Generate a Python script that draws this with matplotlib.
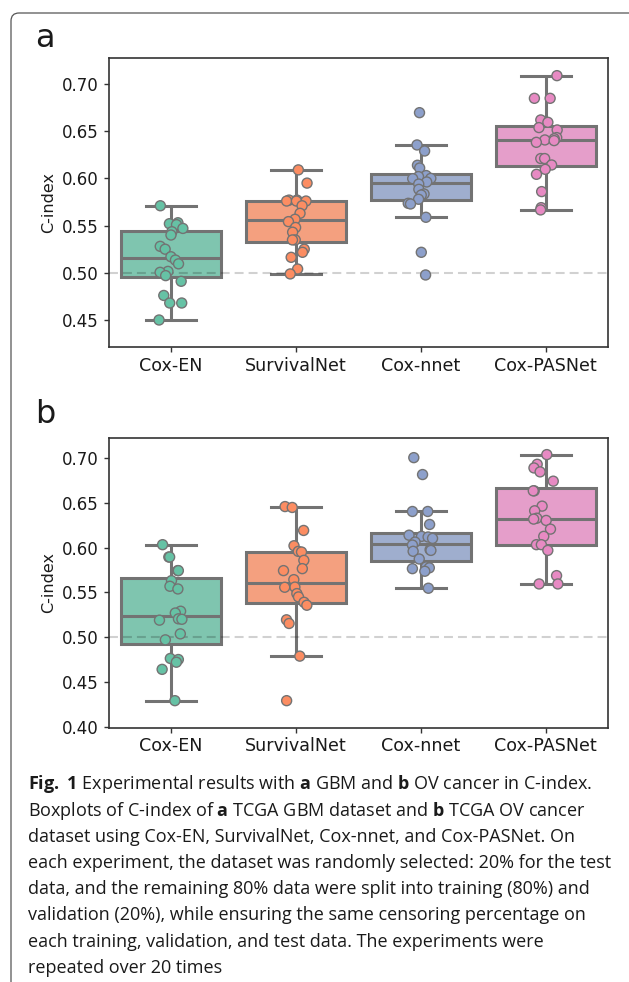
import numpy as np
import pandas as pd
import matplotlib
matplotlib.use("Agg")
import matplotlib.pyplot as plt
import matplotlib.colors as mcolors
import seaborn as sns
from matplotlib.patches import FancyBboxPatch
from matplotlib.transforms import IdentityTransform
from matplotlib import font_manager as fm

# ---------------- data ----------------
methods = ["Cox-EN", "SurvivalNet", "Cox-nnet", "Cox-PASNet"]

gbm_cox_en = [0.571, 0.553, 0.552, 0.551, 0.547, 0.5435, 0.540, 0.528, 0.525, 0.517,
              0.5135, 0.5095, 0.5015, 0.5005, 0.497, 0.491, 0.476, 0.468, 0.468, 0.450]
gbm_survivalnet = [0.609, 0.595, 0.577, 0.577, 0.576, 0.576, 0.576, 0.571, 0.563, 0.5567,
                   0.5542, 0.548, 0.543, 0.5348, 0.5348, 0.525, 0.5217, 0.5164, 0.504, 0.4988]
gbm_cox_nnet = [0.6696, 0.6354, 0.629, 0.6139, 0.611, 0.603, 0.6019, 0.600, 0.5997, 0.5962,
                0.594, 0.5884, 0.5835, 0.5824, 0.5779, 0.5736, 0.5729, 0.5588, 0.5217, 0.4977]
gbm_cox_pasnet = [0.7088, 0.6848, 0.6848, 0.6619, 0.6594, 0.6538, 0.6513, 0.6432, 0.642, 0.6407,
                  0.640, 0.6382, 0.621, 0.621, 0.6142, 0.6096, 0.6043, 0.586, 0.569, 0.5666]

ov_cox_en = [0.6034, 0.5896, 0.5896, 0.5744, 0.5744, 0.5632, 0.5569, 0.5539, 0.529, 0.527,
             0.5205, 0.520, 0.519, 0.5037, 0.497, 0.4762, 0.475, 0.472, 0.464, 0.429]
ov_survivalnet = [0.646, 0.645, 0.6193, 0.6022, 0.5959, 0.5952, 0.5859, 0.5766, 0.5744, 0.5643,
                  0.556, 0.5558, 0.5487, 0.545, 0.539, 0.5357, 0.5194, 0.5153, 0.4788, 0.429]
ov_cox_nnet = [0.7007, 0.6818, 0.6405, 0.6405, 0.626, 0.614, 0.6127, 0.612, 0.6104, 0.6063,
               0.603, 0.5978, 0.597, 0.596, 0.5874, 0.5785, 0.5775, 0.5766, 0.5737, 0.5547]
ov_cox_pasnet = [0.7041, 0.6933, 0.6892, 0.6848, 0.6744, 0.6636, 0.6636, 0.6465, 0.6413, 0.633,
                 0.632, 0.6305, 0.6208, 0.6127, 0.6034, 0.6034, 0.597, 0.5688, 0.5595, 0.5595]

yticks_a = [0.45, 0.50, 0.55, 0.60, 0.65, 0.70]
yticks_b = [0.40, 0.45, 0.50, 0.55, 0.60, 0.65, 0.70]
ylabel = "C-index"
panel_labels = ["a", "b"]
reference_value = 0.50

caption_lines = [
    r"$\mathbf{Fig.}$ $\mathbf{1}$ Experimental results with $\mathbf{a}$ GBM and $\mathbf{b}$ OV cancer in C-index.",
    r"Boxplots of C-index of $\mathbf{a}$ TCGA GBM dataset and $\mathbf{b}$ TCGA OV cancer",
    "dataset using Cox-EN, SurvivalNet, Cox-nnet, and Cox-PASNet. On",
    "each experiment, the dataset was randomly selected: 20% for the test",
    "data, and the remaining 80% data were split into training (80%) and",
    "validation (20%), while ensuring the same censoring percentage on",
    "each training, validation, and test data. The experiments were",
    "repeated over 20 times",
]

# ---------------- style ----------------
plt.rcParams["font.family"] = ["DejaVu Sans"]

def has_font(name):
    try:
        fm.findfont(fm.FontProperties(family=name), fallback_to_default=False)
        return True
    except Exception:
        return False

cap_family = "Liberation Sans Narrow" if has_font("Liberation Sans Narrow") else "Open Sans"
plt.rcParams["mathtext.fontset"] = "custom"
plt.rcParams["mathtext.rm"] = cap_family
plt.rcParams["mathtext.bf"] = cap_family + ":bold"

edge_gray = "#737373"
spine_col = "#333333"

def lighten(c, f):
    r = np.array(mcolors.to_rgb(c))
    return tuple(r * (1 - f) + f)

set2 = sns.color_palette("Set2", 4)
box_palette = [lighten(sns.desaturate(c, 0.87), 0.13) for c in set2]

fig = plt.figure(figsize=(6.29, 9.82), dpi=100)
W, H = 629, 982

ax_a = fig.add_axes([108.5 / W, 1 - 347 / H, (608 - 108.5) / W, (347 - 58) / H])
ax_b = fig.add_axes([108.5 / W, 1 - 727.5 / H, (608 - 108.5) / W, (727.5 - 437.7) / H])

np.random.seed(7)

def draw_panel(ax, groups, yticks, ylim):
    df = pd.DataFrame({
        "method": np.repeat(methods, [len(g) for g in groups]),
        "cindex": np.concatenate([np.asarray(g, float) for g in groups]),
    })
    sns.boxplot(data=df, x="method", y="cindex", hue="method", order=methods,
                hue_order=methods, palette=box_palette, saturation=1, width=0.8,
                linewidth=2.2, linecolor=edge_gray, showfliers=False,
                legend=False, ax=ax)
    ax.axhline(reference_value, color="k", alpha=0.18, lw=1.5,
               ls=(0, (4.3, 2.4)), zorder=2.5)
    sns.stripplot(data=df, x="method", y="cindex", hue="method", order=methods,
                  hue_order=methods, palette=set2, size=7.2, linewidth=1,
                  edgecolor=edge_gray, jitter=0.1, legend=False, ax=ax, zorder=3)
    ax.set_xlim(-0.5, 3.5)
    ax.set_ylim(*ylim)
    ax.set_yticks(yticks)
    ax.set_yticklabels([f"{t:.2f}" for t in yticks])
    ax.set_xlabel("")
    ax.set_ylabel(ylabel, fontsize=11.5, color="#1a1a1a")
    ax.tick_params(axis="both", length=3.5, width=1,
                   color=spine_col, labelcolor="#1a1a1a")
    ax.tick_params(axis="y", labelsize=12)
    ax.tick_params(axis="x", labelsize=12.6)
    for s in ax.spines.values():
        s.set_visible(True)
        s.set_color(spine_col)
        s.set_linewidth(1.2)

draw_panel(ax_a, [gbm_cox_en, gbm_survivalnet, gbm_cox_nnet, gbm_cox_pasnet],
           yticks_a, (0.4214, 0.7275))
draw_panel(ax_b, [ov_cox_en, ov_survivalnet, ov_cox_nnet, ov_cox_pasnet],
           yticks_b, (0.399, 0.723))

# panel letters
fig.text(35 / W, 1 - 47 / H, panel_labels[0], fontsize=23, va="baseline",
         ha="left", color="#1a1a1a")
fig.text(35 / W, 1 - 423 / H, panel_labels[1], fontsize=23, va="baseline",
         ha="left", color="#1a1a1a")

# frame (rounded, open to the right/bottom)
frame = FancyBboxPatch((11, -30), 700, (H - 13) + 30,
                       boxstyle="round,pad=0,rounding_size=8",
                       transform=IdentityTransform(), fill=False,
                       edgecolor="#555555", linewidth=0.9)
fig.patches.append(frame)

# caption
renderer = fig.canvas.get_renderer()
probe = fig.text(0, 0, caption_lines[3], fontsize=15, family=cap_family)
w15 = probe.get_window_extent(renderer).width
probe.remove()
cap_size = 15 * (612 - 28) / w15

baselines = [789, 815.7, 842, 868, 894, 920, 946.7, 972.7]
for line, yb in zip(caption_lines, baselines):
    fig.text(28 / W, 1 - yb / H, line, fontsize=cap_size, family=cap_family,
             va="baseline", ha="left", color="#1a1a1a")

fig.savefig("out.png", dpi=100)
